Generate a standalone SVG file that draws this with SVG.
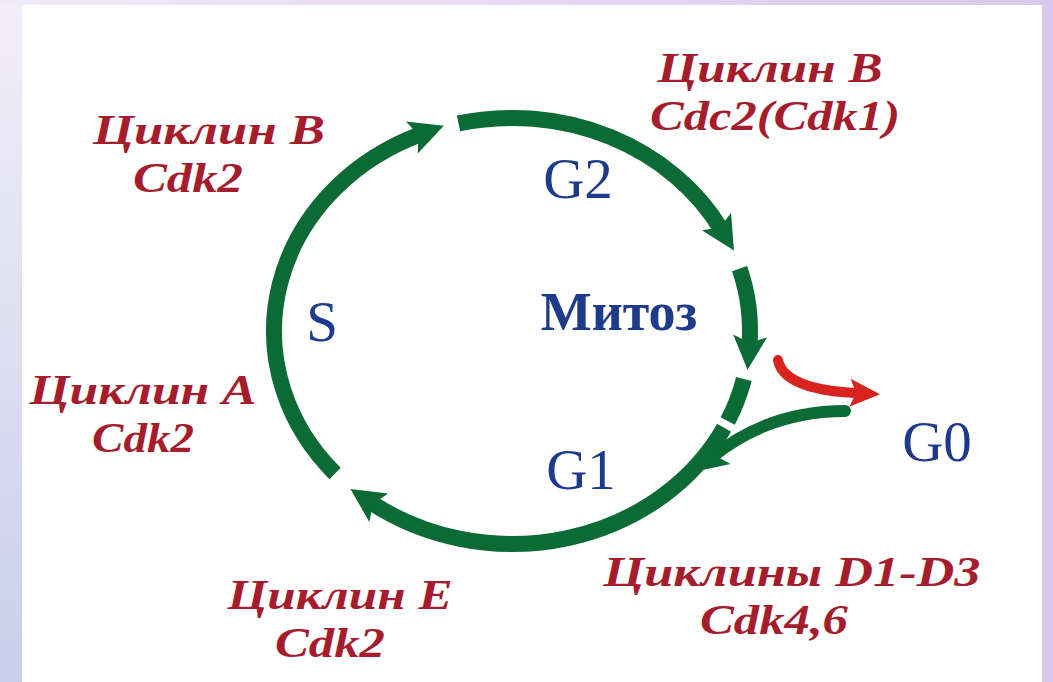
<svg xmlns="http://www.w3.org/2000/svg" width="1053" height="682" viewBox="0 0 1053 682">
<defs>
<linearGradient id="bgL" x1="0" y1="0" x2="0" y2="1">
<stop offset="0" stop-color="#f2eef8"/>
<stop offset="1" stop-color="#c8cfeb"/>
</linearGradient>
<linearGradient id="bgT" x1="0" y1="0" x2="1" y2="0">
<stop offset="0" stop-color="#efeaf7"/>
<stop offset="1" stop-color="#d9c9ee"/>
</linearGradient>
<marker id="ahG" markerUnits="userSpaceOnUse" orient="auto" refX="0" refY="0" markerWidth="10" markerHeight="10" overflow="visible">
<path d="M24,0 L-10,-17 L-3,0 L-10,17 Z" fill="#0c6a34"/>
</marker>
<marker id="ahR" markerUnits="userSpaceOnUse" orient="auto" refX="0" refY="0" markerWidth="10" markerHeight="10" overflow="visible">
<path d="M24,0 L-6,-14 L0,0 L-6,14 Z" fill="#d8231f"/>
</marker>
</defs>
<style>
.red{font-family:"Liberation Serif","Times New Roman",serif;font-weight:bold;font-style:italic;font-size:43px;fill:#a51d2d;text-anchor:middle}
.blue{font-family:"Liberation Serif","Times New Roman",serif;font-size:57px;fill:#1e3a8a;text-anchor:middle}
.arc{fill:none;stroke:#0c6a34;stroke-width:16}
</style>
<rect x="0" y="0" width="1053" height="682" fill="url(#bgL)"/>
<rect x="0" y="0" width="1053" height="5" fill="url(#bgT)"/>
<rect x="1042" y="0" width="11" height="682" fill="#d8c9ed"/>
<rect x="22" y="5" width="1020" height="677" fill="#ffffff"/>

<g id="connectors">
<path id="arc-S" class="arc" d="M335.1,473.5 A238,213 0 0 1 421.3,134.1" marker-end="url(#ahG)"/>
<path id="arc-G2" class="arc" d="M458.5,123.4 A238,213 0 0 1 721.6,230" marker-end="url(#ahG)"/>
<path id="arc-M" class="arc" d="M739.6,268.7 A238,213 0 0 1 749.4,345.9" marker-end="url(#ahG)"/>
<path id="arc-dash" class="arc" d="M743.9,378.9 A238,213 0 0 1 727.7,421" stroke-width="14"/>
<path id="arc-G1" class="arc" d="M724.1,427.7 A238,213 0 0 1 370.4,502.2" marker-end="url(#ahG)"/>
<path id="branch-G0" fill="none" stroke="#0c6a34" stroke-width="12" stroke-linecap="round" d="M845,411 C790,411 748,428 712,457" marker-end="url(#ahG)"/>
<path id="to-G0" fill="none" stroke="#d8231f" stroke-width="10" stroke-linecap="round" d="M778,360 C782,382 815,391 856,393" marker-end="url(#ahR)"/>
</g>

<g id="node-G2"><text class="blue" x="578" y="198">G2</text></g>
<g id="node-M"><text class="blue" x="619" y="330" style="font-weight:bold;font-size:54px">Митоз</text></g>
<g id="node-S"><text class="blue" x="322" y="341">S</text></g>
<g id="node-G1"><text class="blue" x="581" y="489">G1</text></g>
<g id="node-G0"><text class="blue" x="937" y="461">G0</text></g>

<g id="label-cycB-cdc2">
<text class="red" x="770" y="82" textLength="225" lengthAdjust="spacingAndGlyphs">Циклин B</text>
<text class="red" x="775" y="130" textLength="250" lengthAdjust="spacingAndGlyphs">Cdc2(Cdk1)</text>
</g>
<g id="label-cycB-cdk2">
<text class="red" x="209" y="144" textLength="232" lengthAdjust="spacingAndGlyphs">Циклин B</text>
<text class="red" x="188" y="192" textLength="110" lengthAdjust="spacingAndGlyphs">Cdk2</text>
</g>
<g id="label-cycA">
<text class="red" x="143" y="404" textLength="227" lengthAdjust="spacingAndGlyphs">Циклин A</text>
<text class="red" x="143" y="452" textLength="102" lengthAdjust="spacingAndGlyphs">Cdk2</text>
</g>
<g id="label-cycE">
<text class="red" x="340" y="609" textLength="225" lengthAdjust="spacingAndGlyphs">Циклин E</text>
<text class="red" x="330" y="657" textLength="110" lengthAdjust="spacingAndGlyphs">Cdk2</text>
</g>
<g id="label-cycD">
<text class="red" x="792" y="586" textLength="377" lengthAdjust="spacingAndGlyphs">Циклины D1-D3</text>
<text class="red" x="774" y="634" textLength="148" lengthAdjust="spacingAndGlyphs">Cdk4,6</text>
</g>
</svg>
